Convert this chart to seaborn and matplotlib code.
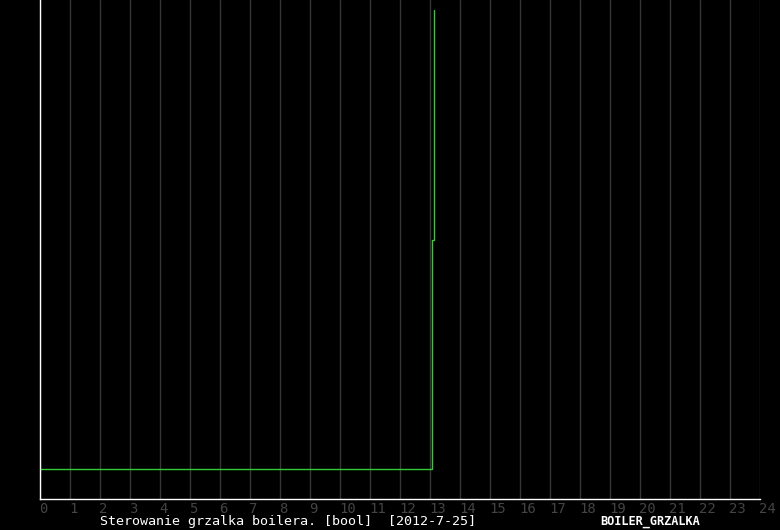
import pandas as pd
import seaborn as sns
import matplotlib.pyplot as plt
from matplotlib.transforms import ScaledTranslation

# boiler heater state over the day (hours, bool)
hours = [0.0, 13.07, 13.13]
state = [0.0, 0.5, 1.0]
hour_ticks = list(range(0, 25))
title = 'Sterowanie grzalka boilera. [bool]  [2012-7-25]'
name = 'BOILER_GRZALKA'

df = pd.DataFrame({'hour': hours, 'state': state})

sns.set_style('dark', {'axes.facecolor': 'black', 'figure.facecolor': 'black'})
plt.rcParams['font.family'] = ['DejaVu Sans Mono']

fig = plt.figure(figsize=(7.8, 5.3), dpi=100)
ax = fig.add_axes([40 / 780, 31 / 530, 720 / 780, 499 / 530])
ax.set_facecolor('black')

sns.lineplot(data=df, x='hour', y='state', ax=ax, color='#33cc33',
             linewidth=1, drawstyle='steps-post', estimator=None)

ax.set_xlim(0, 24)
ax.set_ylim(-30 / 459, 1 + 10 / 459)
ax.set_xticks(hour_ticks)
ax.set_xticklabels([str(h) for h in hour_ticks], color='#444444', fontsize=10)
ax.tick_params(axis='x', length=0, pad=2)
# labels start at the grid line
for lab in ax.get_xticklabels():
    lab.set_horizontalalignment('left')
    lab.set_transform(lab.get_transform() + ScaledTranslation(-1 / 100, 0, fig.dpi_scale_trans))
ax.set_yticks([])
ax.set_xlabel('')
ax.set_ylabel('')
ax.grid(axis='x', color='#353535', linewidth=1)
ax.grid(axis='y', visible=False)

for s in ['top', 'right']:
    ax.spines[s].set_visible(False)
for s in ['left', 'bottom']:
    ax.spines[s].set_visible(True)
    ax.spines[s].set_color('white')
    ax.spines[s].set_linewidth(1)

fig.text(100 / 780, 8 / 530, title, color='white', fontsize=9.6, ha='left', va='center')
fig.text(600 / 780, 8 / 530, name, color='white', fontsize=8.6, fontweight='bold',
         ha='left', va='center')

fig.savefig('out.png', dpi=100, facecolor='black')
